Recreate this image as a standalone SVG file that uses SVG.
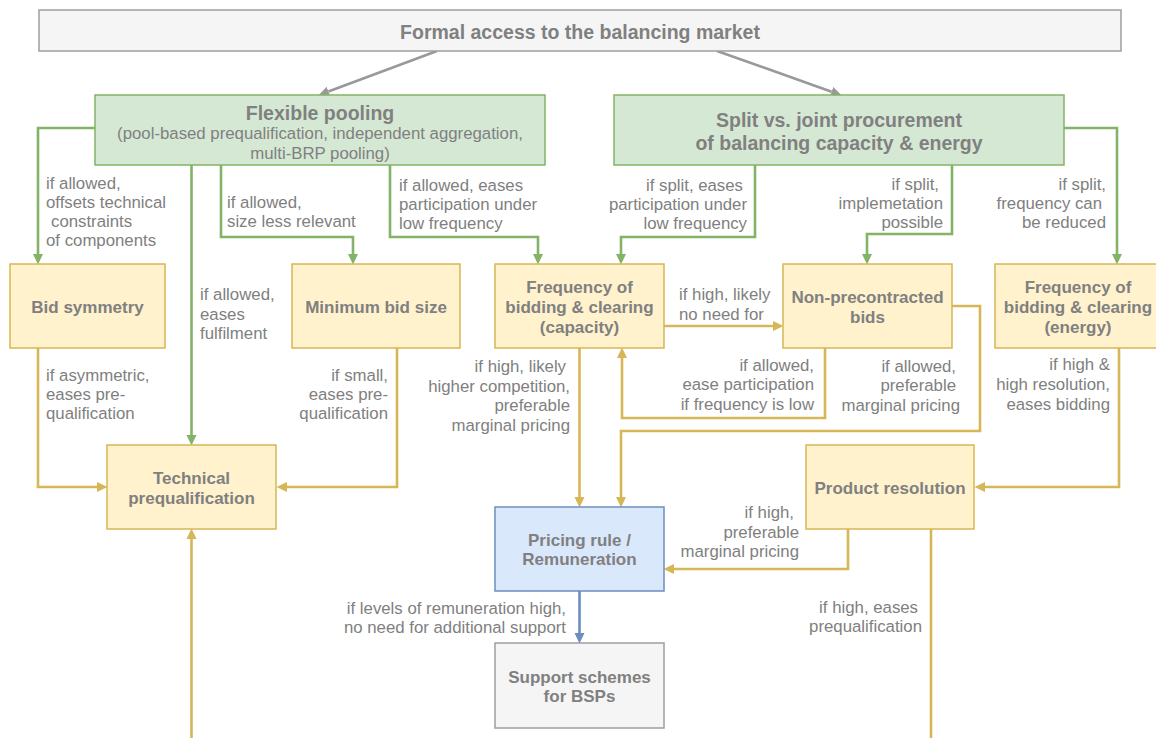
<svg xmlns="http://www.w3.org/2000/svg" width="1156" height="738" viewBox="0 0 1156 738">
<style>
text{font-family:"Liberation Sans",Arial,Helvetica,sans-serif;fill:#808080}
.lb{font-size:16.8px}
.nb{font-size:17px;font-weight:bold;text-anchor:middle}
.hb{font-size:19.5px;font-weight:bold;text-anchor:middle}
.e{text-anchor:end}
.m{text-anchor:middle}
.gray{fill:#f5f5f5;stroke:#9e9e9e;stroke-width:1.5}
.green{fill:#d5e8d4;stroke:#82b366;stroke-width:1.5}
.yel{fill:#fff2cc;stroke:#d6b656;stroke-width:1.5}
.blue{fill:#dae8fc;stroke:#6c8ebf;stroke-width:1.5}
.cg{fill:none;stroke:#82b366;stroke-width:2.6;marker-end:url(#ag)}
.cy{fill:none;stroke:#d6b656;stroke-width:2.6;marker-end:url(#ay)}
.cyn{fill:none;stroke:#d6b656;stroke-width:2.6}
.cb{fill:none;stroke:#6c8ebf;stroke-width:2.6;marker-end:url(#ab)}
.ck{fill:none;stroke:#999999;stroke-width:2.6;marker-end:url(#ak)}
</style>
<defs>
<marker id="ag" markerUnits="userSpaceOnUse" markerWidth="11" markerHeight="11" refX="0" refY="5.5" orient="auto" viewBox="0 0 11 11"><path d="M0,0.5 L10.5,5.5 L0,10.5 z" fill="#82b366"/></marker>
<marker id="ay" markerUnits="userSpaceOnUse" markerWidth="11" markerHeight="11" refX="0" refY="5.5" orient="auto" viewBox="0 0 11 11"><path d="M0,0.5 L10.5,5.5 L0,10.5 z" fill="#d6b656"/></marker>
<marker id="ab" markerUnits="userSpaceOnUse" markerWidth="11" markerHeight="11" refX="0" refY="5.5" orient="auto" viewBox="0 0 11 11"><path d="M0,0.5 L10.5,5.5 L0,10.5 z" fill="#6c8ebf"/></marker>
<marker id="ak" markerUnits="userSpaceOnUse" markerWidth="11" markerHeight="11" refX="0" refY="5.5" orient="auto" viewBox="0 0 11 11"><path d="M0,0.5 L10.5,5.5 L0,10.5 z" fill="#999999"/></marker>
</defs>
<rect width="1156" height="738" fill="#ffffff"/>

<g id="connectors">
<path class="ck" d="M437,51 L328.4,91.5"/>
<path class="ck" d="M717,51 L831.6,91.7"/>
<path class="cg" d="M95,128 H38 V254"/>
<path class="cg" d="M191.5,165 V435"/>
<path class="cg" d="M221,165 V237 H353 V254"/>
<path class="cg" d="M390,165 V237 H538 V254"/>
<path class="cg" d="M755,165 V237 H621 V254"/>
<path class="cg" d="M952,165 V234 H867 V254"/>
<path class="cg" d="M1064,128 H1117 V254"/>
<path class="cy" d="M38,348 V487 H97"/>
<path class="cy" d="M397,348 V487 H287"/>
<path class="cy" d="M579.5,348 V497"/>
<path class="cy" d="M664,326 H773"/>
<path class="cy" d="M825,348 V418 H622 V358"/>
<path class="cy" d="M952,306 H980 V431 H621 V497"/>
<path class="cy" d="M1119,348 V487 H985"/>
<path class="cy" d="M848,529 V569 H674"/>
<path class="cyn" d="M931,529 V738"/>
<path class="cy" d="M191.5,738 V539"/>
<path class="cb" d="M579.5,591 V633"/>
</g>

<g id="labels">
<text class="lb" x="46" y="189">if allowed,</text>
<text class="lb" x="46" y="208">offsets technical</text>
<text class="lb" x="51" y="227">constraints</text>
<text class="lb" x="46" y="246">of components</text>
<text class="lb" x="227" y="208">if allowed,</text>
<text class="lb" x="227" y="227">size less relevant</text>
<text class="lb" x="399" y="191">if allowed, eases</text>
<text class="lb" x="399" y="210">participation under</text>
<text class="lb" x="399" y="229">low frequency</text>
<text class="lb e" x="743" y="191">if split, eases</text>
<text class="lb e" x="747" y="210">participation under</text>
<text class="lb e" x="747" y="229">low frequency</text>
<text class="lb e" x="939" y="190">if split,</text>
<text class="lb e" x="943" y="209">implemetation</text>
<text class="lb e" x="943" y="228">possible</text>
<text class="lb e" x="1106" y="190">if split,</text>
<text class="lb e" x="1102" y="209">frequency can</text>
<text class="lb e" x="1106" y="228">be reduced</text>
<text class="lb" x="200" y="300">if allowed,</text>
<text class="lb" x="200" y="320">eases</text>
<text class="lb" x="200" y="339">fulfilment</text>
<text class="lb" x="46" y="381">if asymmetric,</text>
<text class="lb" x="46" y="400">eases pre-</text>
<text class="lb" x="46" y="419">qualification</text>
<text class="lb e" x="388" y="381">if small,</text>
<text class="lb e" x="388" y="400">eases pre-</text>
<text class="lb e" x="388" y="419">qualification</text>
<text class="lb e" x="566" y="372">if high, likely</text>
<text class="lb e" x="570" y="392">higher competition,</text>
<text class="lb e" x="570" y="411">preferable</text>
<text class="lb e" x="570" y="431">marginal pricing</text>
<text class="lb" x="679" y="300">if high, likely</text>
<text class="lb" x="679" y="320">no need for</text>
<text class="lb e" x="814" y="371">if allowed,</text>
<text class="lb e" x="814" y="390">ease participation</text>
<text class="lb e" x="814" y="410">if frequency is low</text>
<text class="lb e" x="956" y="372">if allowed,</text>
<text class="lb e" x="956" y="391">preferable</text>
<text class="lb e" x="960" y="411">marginal pricing</text>
<text class="lb e" x="1110" y="370">if high &amp;</text>
<text class="lb e" x="1110" y="390">high resolution,</text>
<text class="lb e" x="1110" y="410">eases bidding</text>
<text class="lb e" x="794" y="518">if high,</text>
<text class="lb e" x="799" y="538">preferable</text>
<text class="lb e" x="799" y="557">marginal pricing</text>
<text class="lb e" x="918" y="613">if high, eases</text>
<text class="lb e" x="922" y="632">prequalification</text>
<text class="lb e" x="566" y="614">if levels of remuneration high,</text>
<text class="lb e" x="566" y="633">no need for additional support</text>
</g>

<g id="n-formal">
<rect class="gray" x="39" y="10" width="1082" height="41"/>
<text class="hb" x="580" y="38.5">Formal access to the balancing market</text>
</g>
<g id="n-pooling">
<rect class="green" x="95" y="95" width="450" height="70"/>
<text class="hb" x="320" y="119.5">Flexible pooling</text>
<text class="lb m" x="320" y="139">(pool-based prequalification, independent aggregation,</text>
<text class="lb m" x="320" y="159">multi-BRP pooling)</text>
</g>
<g id="n-split">
<rect class="green" x="614" y="95" width="450" height="70"/>
<text class="hb" x="839" y="127">Split vs. joint procurement</text>
<text class="hb" x="839" y="150">of balancing capacity &amp; energy</text>
</g>
<g id="n-bidsym">
<rect class="yel" x="10" y="264" width="155" height="84"/>
<text class="nb" x="87.5" y="312.5">Bid symmetry</text>
</g>
<g id="n-minbid">
<rect class="yel" x="292" y="264" width="168" height="84"/>
<text class="nb" x="376" y="312.5">Minimum bid size</text>
</g>
<g id="n-freqcap">
<rect class="yel" x="495" y="264" width="169" height="84"/>
<text class="nb" x="579.5" y="293">Frequency of</text>
<text class="nb" x="579.5" y="313">bidding &amp; clearing</text>
<text class="nb" x="579.5" y="333">(capacity)</text>
</g>
<g id="n-nonprecon">
<rect class="yel" x="783" y="264" width="169" height="84"/>
<text class="nb" x="867.5" y="303">Non-precontracted</text>
<text class="nb" x="867.5" y="323">bids</text>
</g>
<g id="n-freqen">
<rect class="yel" x="995" y="264" width="168" height="84"/>
<text class="nb" x="1078" y="293">Frequency of</text>
<text class="nb" x="1078" y="313">bidding &amp; clearing</text>
<text class="nb" x="1078" y="333">(energy)</text>
</g>
<g id="n-techpq">
<rect class="yel" x="107" y="445" width="169" height="84"/>
<text class="nb" x="191.5" y="484">Technical</text>
<text class="nb" x="191.5" y="504">prequalification</text>
</g>
<g id="n-prodres">
<rect class="yel" x="806" y="445" width="168" height="84"/>
<text class="nb" x="890" y="494">Product resolution</text>
</g>
<g id="n-pricing">
<rect class="blue" x="495" y="507" width="169" height="84"/>
<text class="nb" x="579.5" y="546">Pricing rule /</text>
<text class="nb" x="579.5" y="565">Remuneration</text>
</g>
<g id="n-support">
<rect class="gray" x="495" y="643" width="169" height="85"/>
<text class="nb" x="579.5" y="683">Support schemes</text>
<text class="nb" x="579.5" y="702">for BSPs</text>
</g>
</svg>
